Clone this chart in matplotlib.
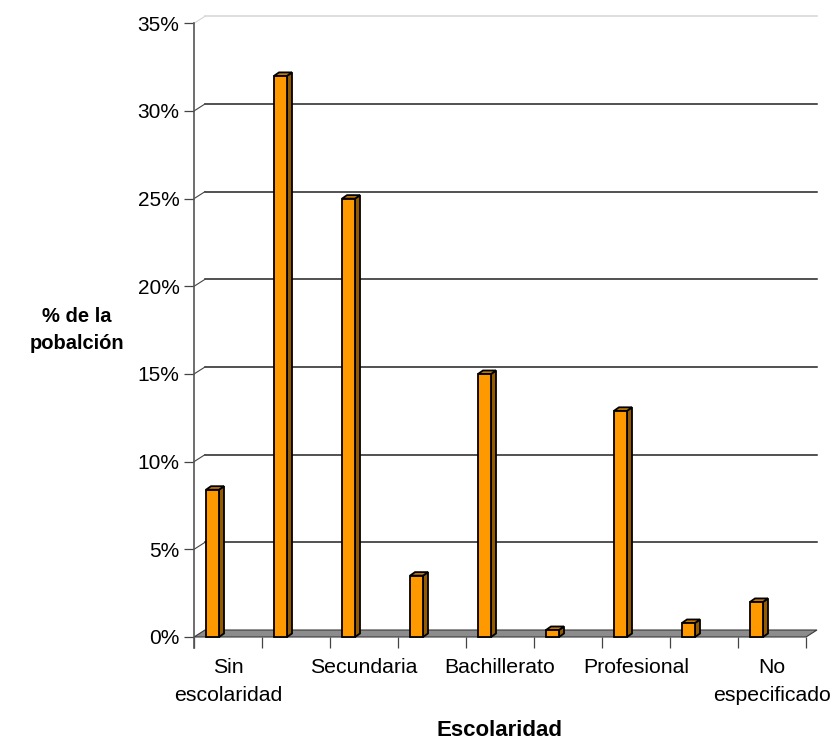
import matplotlib
matplotlib.use("Agg")
import matplotlib.pyplot as plt
from matplotlib.patches import Polygon, Rectangle
from matplotlib.lines import Line2D
from matplotlib.ticker import FixedLocator, FuncFormatter

plt.rcParams['font.family'] = ['Liberation Sans', 'DejaVu Sans']

# Share of the population by schooling level (percent)
tick_labels = ["Sin\nescolaridad", "", "Secundaria", "", "Bachillerato", "",
               "Profesional", "", "No\nespecificado"]
values = [8.4, 32.0, 25.0, 3.5, 15.0, 0.4, 12.9, 0.8, 2.0]
y_ticks = [0, 5, 10, 15, 20, 25, 30, 35]

W, H = 838, 743
fig = plt.figure(figsize=(W / 100, H / 100), dpi=100)
fig.patch.set_facecolor("white")

# plot area in pixels
x0_px, x1_px = 194, 806
y0_px, y1_px = 637, 23.3
ax = fig.add_axes([x0_px / W, (H - y0_px) / H, (x1_px - x0_px) / W, (y0_px - y1_px) / H])
n = len(values)
ax.set_xlim(0, n)
ax.set_ylim(0, 35)
ax.set_facecolor("none")

px_x = n / (x1_px - x0_px)          # data units per pixel (x)
px_y = 35 / (y0_px - y1_px)         # data units per pixel (y)

# depth offset of the back wall / floor
wdx, wdy = 11 * px_x, 7 * px_y
# depth offset of each column
bdx, bdy = 5 * px_x, 3.5 * px_y

# floor
floor = Polygon([(0, 0), (n, 0), (n + wdx, wdy), (wdx, wdy)], closed=True,
                facecolor="#8c8c8c", edgecolor="#3a3a3a", linewidth=0.8,
                clip_on=False, zorder=1)
ax.add_patch(floor)

# back-wall gridlines with the slanted connectors to the value axis
for v in y_ticks[1:]:
    col = "#d4d4d4" if v == 35 else "#222222"
    ax.add_line(Line2D([wdx, n + wdx], [v + wdy, v + wdy], color=col,
                       linewidth=1.1, clip_on=False, zorder=2))
    ax.add_line(Line2D([0, wdx], [v, v + wdy], color=col if v == 35 else "#444444",
                       linewidth=0.8, clip_on=False, zorder=2))

# columns
front_off = 12 * px_x
front_w = 13 * px_x
for i, v in enumerate(values):
    xl = i + front_off
    xr = xl + front_w
    side = Polygon([(xr, 0), (xr + bdx, bdy), (xr + bdx, v + bdy), (xr, v)],
                   closed=True, facecolor="#935a00", edgecolor="black",
                   linewidth=1.3, clip_on=False, zorder=4)
    top = Polygon([(xl, v), (xl + bdx, v + bdy), (xr + bdx, v + bdy), (xr, v)],
                  closed=True, facecolor="#c47a00", edgecolor="black",
                  linewidth=1.3, clip_on=False, zorder=4)
    front = Rectangle((xl, 0), front_w, v, facecolor="#ff9900",
                      edgecolor="black", linewidth=1.3, clip_on=False, zorder=5)
    ax.add_patch(side)
    ax.add_patch(top)
    ax.add_patch(front)

# axes
for s in ["top", "right", "bottom"]:
    ax.spines[s].set_visible(False)
ax.spines["left"].set_color("#555555")
ax.spines["left"].set_linewidth(1.2)
ax.spines["left"].set_bounds(-11 * px_y, 35)

ax.yaxis.set_major_locator(FixedLocator(y_ticks))
ax.yaxis.set_major_formatter(FuncFormatter(lambda v, p: f"{int(v)}%"))
ax.tick_params(axis="y", direction="out", length=7.5, width=0.9, color="#444444",
               pad=3, labelsize=15, labelcolor="black")

# category boundary ticks
ax.set_xticks(range(n + 1))
ax.set_xticklabels([])
ax.tick_params(axis="x", direction="out", length=8, width=0.9, color="#444444")
ax.set_xticks([i + 0.5 for i in range(n)], minor=True)
ax.set_xticklabels(tick_labels, minor=True, fontsize=15.3, linespacing=1.6)
ax.tick_params(axis="x", which="minor", length=0, pad=15)

# axis titles
fig.text(0.5 * (x0_px + x1_px) / W, 1 - 731 / H, "Escolaridad", fontsize=16,
         fontweight="bold", ha="center", va="center")
fig.text(77 / W, 1 - 330 / H, "% de la\npobalción", fontsize=14.5,
         fontweight="bold", ha="center", va="center", linespacing=1.5)

fig.savefig("out.png", dpi=100, facecolor="white")
